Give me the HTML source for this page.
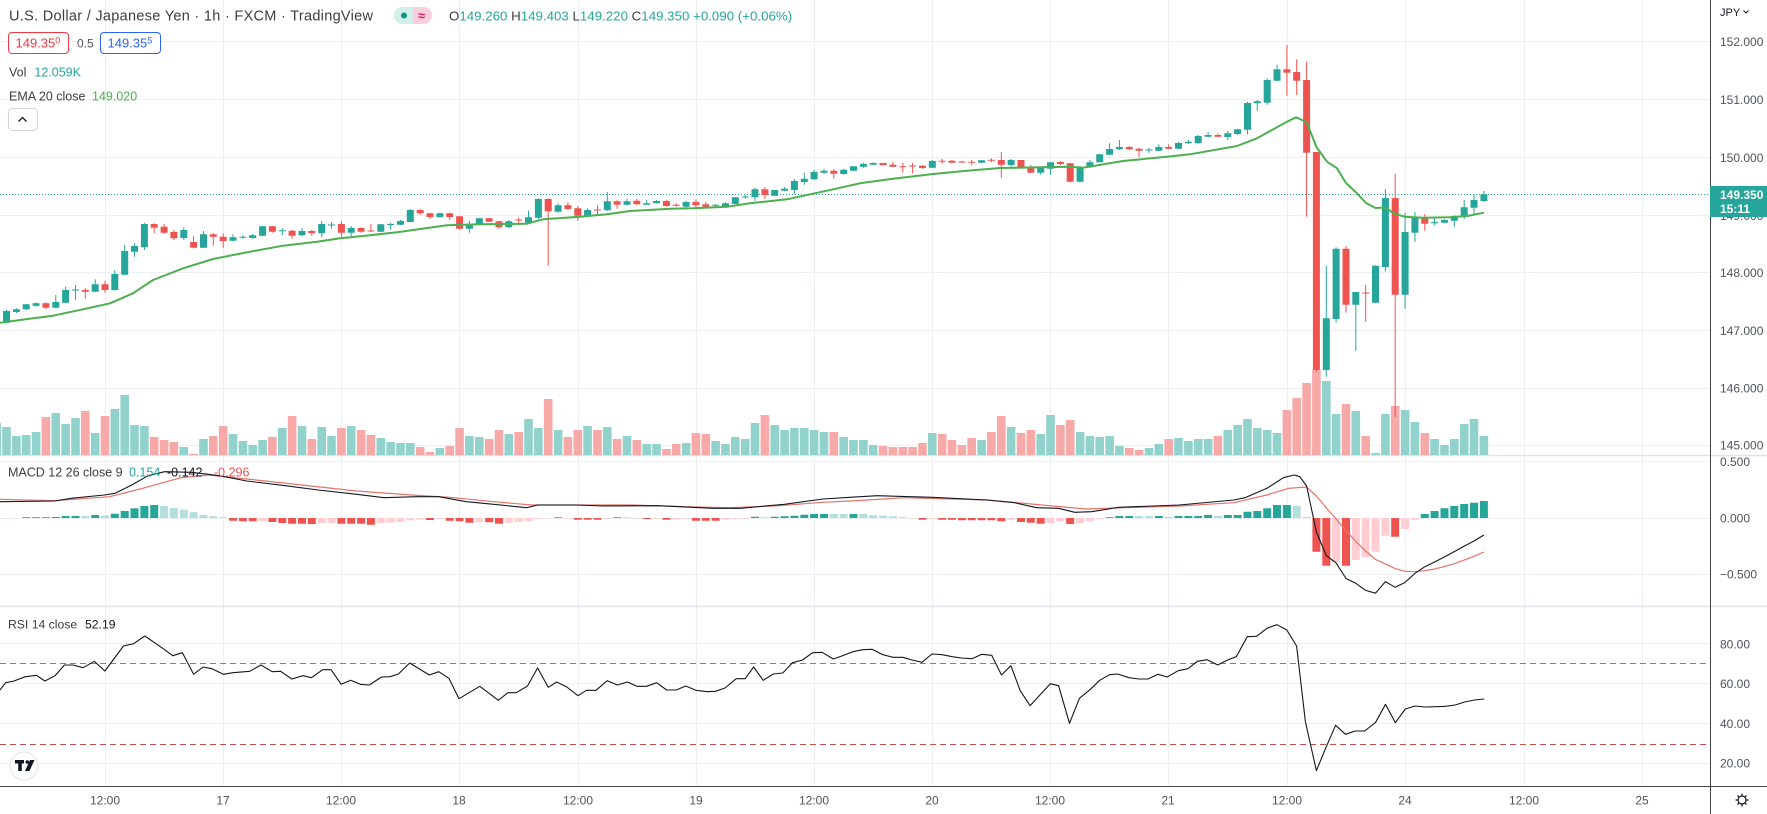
<!DOCTYPE html>
<html><head><meta charset="utf-8"><title>USDJPY 1h</title>
<style>html,body{margin:0;padding:0;background:#fff;width:1767px;height:814px;overflow:hidden}svg{display:block}</style>
</head><body>
<svg width="1767" height="814" viewBox="0 0 1767 814" xmlns="http://www.w3.org/2000/svg" font-family="Liberation Sans, Arial, sans-serif">
<rect width="1767" height="814" fill="#fff"/>
<!-- grid -->
<path stroke="#eceff3" stroke-width="1" fill="none" d="M105.5 0V786M223.5 0V786M341.5 0V786M459.5 0V786M578.5 0V786M696.5 0V786M814.5 0V786M932.5 0V786M1050.5 0V786M1168.5 0V786M1287.5 0V786M1405.5 0V786M1524.5 0V786M1642.5 0V786M0 41.5H1710M0 99.5H1710M0 157.5H1710M0 215.5H1710M0 272.5H1710M0 330.5H1710M0 388.5H1710M0 445.5H1710M0 461.5H1710M0 518.5H1710M0 574.5H1710M0 643.5H1710M0 683.5H1710M0 723.5H1710M0 763.5H1710"/>
<path stroke="#dfe2e8" stroke-width="1.5" d="M0 455.5H1767M0 606.5H1767"/>
<!-- volume -->
<path fill="#92d2cc" d="M-7.6 455v-31.7h8.6V455zM2.2 455v-28h8.6V455zM12.1 455v-19h8.6V455zM21.9 455v-20h8.6V455zM31.8 455v-23h8.6V455zM51.5 455v-42h8.6V455zM61.3 455v-31h8.6V455zM71.2 455v-37h8.6V455zM90.9 455v-22h8.6V455zM110.5 455v-46h8.6V455zM120.4 455v-60h8.6V455zM130.2 455v-30h8.6V455zM140.1 455v-29h8.6V455zM179.5 455v-8h8.6V455zM199.2 455v-16h8.6V455zM228.7 455v-21h8.6V455zM238.6 455v-14h8.6V455zM248.4 455v-10h8.6V455zM258.3 455v-15h8.6V455zM278 455v-27h8.6V455zM297.7 455v-29h8.6V455zM317.4 455v-28h8.6V455zM327.2 455v-19h8.6V455zM346.9 455v-29h8.6V455zM376.5 455v-17h8.6V455zM386.3 455v-13h8.6V455zM396.2 455v-12h8.6V455zM406 455v-12h8.6V455zM435.6 455v-7h8.6V455zM465.1 455v-19h8.6V455zM475 455v-18h8.6V455zM504.5 455v-21h8.6V455zM524.2 455v-36h8.6V455zM534.1 455v-27h8.6V455zM553.8 455v-25h8.6V455zM583.3 455v-29h8.6V455zM603 455v-28h8.6V455zM622.7 455v-19h8.6V455zM642.4 455v-11h8.6V455zM652.2 455v-11h8.6V455zM681.8 455v-12h8.6V455zM711.3 455v-14h8.6V455zM721.2 455v-11h8.6V455zM731 455v-18h8.6V455zM740.9 455v-16h8.6V455zM750.7 455v-32h8.6V455zM770.4 455v-30h8.6V455zM780.3 455v-25h8.6V455zM790.1 455v-27h8.6V455zM800 455v-27h8.6V455zM809.8 455v-25h8.6V455zM819.7 455v-23h8.6V455zM839.4 455v-18h8.6V455zM849.2 455v-15h8.6V455zM859.1 455v-15h8.6V455zM868.9 455v-10h8.6V455zM928 455v-22h8.6V455zM977.3 455v-15h8.6V455zM1006.8 455v-28h8.6V455zM1036.4 455v-21h8.6V455zM1046.2 455v-40h8.6V455zM1075.8 455v-23h8.6V455zM1085.6 455v-19h8.6V455zM1095.4 455v-18h8.6V455zM1105.3 455v-19h8.6V455zM1115.1 455v-9h8.6V455zM1144.7 455v-7h8.6V455zM1154.5 455v-11h8.6V455zM1174.2 455v-17h8.6V455zM1184.1 455v-14h8.6V455zM1193.9 455v-16h8.6V455zM1203.8 455v-16h8.6V455zM1223.5 455v-25h8.6V455zM1233.3 455v-30h8.6V455zM1243.2 455v-36h8.6V455zM1253 455v-27h8.6V455zM1262.9 455v-25h8.6V455zM1272.7 455v-22h8.6V455zM1322 455v-74h8.6V455zM1331.8 455v-41h8.6V455zM1351.5 455v-44h8.6V455zM1371.2 455v-2h8.6V455zM1381.1 455v-41h8.6V455zM1400.8 455v-45h8.6V455zM1410.6 455v-33h8.6V455zM1430.3 455v-16h8.6V455zM1440.2 455v-10h8.6V455zM1450 455v-16h8.6V455zM1459.9 455v-31h8.6V455zM1469.7 455v-36h8.6V455zM1479.6 455v-19h8.6V455z"/>
<path fill="#f7a9a7" d="M41.6 455v-38h8.6V455zM81 455v-44h8.6V455zM100.7 455v-39h8.6V455zM149.9 455v-18h8.6V455zM159.8 455v-15h8.6V455zM169.6 455v-13h8.6V455zM189.3 455v-1.3h8.6V455zM209 455v-19h8.6V455zM218.9 455v-29h8.6V455zM268.1 455v-18h8.6V455zM287.8 455v-39h8.6V455zM307.5 455v-16h8.6V455zM337.1 455v-27h8.6V455zM356.8 455v-25h8.6V455zM366.6 455v-20h8.6V455zM415.9 455v-8h8.6V455zM425.7 455v-3h8.6V455zM445.4 455v-9h8.6V455zM455.3 455v-27h8.6V455zM484.8 455v-16h8.6V455zM494.7 455v-25h8.6V455zM514.4 455v-23h8.6V455zM543.9 455v-56h8.6V455zM563.6 455v-18h8.6V455zM573.5 455v-25h8.6V455zM593.2 455v-25h8.6V455zM612.8 455v-16h8.6V455zM632.5 455v-15h8.6V455zM662.1 455v-6h8.6V455zM671.9 455v-11h8.6V455zM691.6 455v-22h8.6V455zM701.5 455v-21h8.6V455zM760.6 455v-40h8.6V455zM829.5 455v-23h8.6V455zM878.8 455v-9h8.6V455zM888.6 455v-8h8.6V455zM898.5 455v-8h8.6V455zM908.3 455v-8h8.6V455zM918.2 455v-12h8.6V455zM937.9 455v-21h8.6V455zM947.7 455v-15h8.6V455zM957.6 455v-10h8.6V455zM967.4 455v-17h8.6V455zM987.1 455v-23h8.6V455zM997 455v-39h8.6V455zM1016.7 455v-22h8.6V455zM1026.5 455v-25h8.6V455zM1056.1 455v-30h8.6V455zM1065.9 455v-35h8.6V455zM1125 455v-7h8.6V455zM1134.8 455v-5h8.6V455zM1164.4 455v-16h8.6V455zM1213.6 455v-19h8.6V455zM1282.6 455v-45h8.6V455zM1292.4 455v-57h8.6V455zM1302.3 455v-72h8.6V455zM1312.1 455v-85h8.6V455zM1341.7 455v-51h8.6V455zM1361.4 455v-19h8.6V455zM1390.9 455v-49h8.6V455zM1420.5 455v-22h8.6V455z"/>
<!-- current price dotted line -->
<path d="M0 194.5H1710" stroke="#26a69a" stroke-width="1" stroke-dasharray="1 2"/>
<!-- candles -->
<path stroke="#26a69a" stroke-width="1" fill="none" d="M6.5 310V323.3M16.4 308.3V313.3M26.2 303.7V310M36.1 302.3V306.7M55.8 295V308.3M65.6 286.7V303.3M75.5 285V300M95.2 279.3V292.3M114.8 270V290.7M124.7 245V275.3M134.5 243.3V256.7M144.4 222.7V250M183.8 227.3V240M203.5 231V248M233 234.3V241M242.9 235.3V238.7M252.7 234V238.7M262.6 226V236M282.3 228.3V235.3M302 228.3V236M321.7 221V237.3M331.5 222V228.7M351.2 226V238.3M380.8 224V232M390.6 222.7V229.3M400.5 220V225M410.3 209V222M439.9 212.7V217.7M469.4 221V232.7M479.3 217.7V225M508.8 220V228.3M528.5 210.7V223.3M538.4 198.3V219.3M558.1 203.3V212.7M587.6 208.3V217.3M607.3 192V211M627 198.7V205.7M646.7 199.7V204.7M656.5 200V203.7M686.1 200.7V208.3M715.6 204V207.3M725.5 202.3V207.3M735.3 197.3V204M745.2 195V198.7M755 187.7V200.7M774.7 190V195.7M784.6 187V191M794.4 179V194M804.3 172.7V184.7M814.1 170V180M824 168.7V174M843.7 168.7V174.7M853.5 166.3V170.7M863.4 162.7V167.7M873.2 162.3V165.3M932.3 160V168M981.6 160.3V162.7M1011.1 159V166.7M1040.7 166.7V174.7M1050.5 161.7V174.7M1080.1 166V182.3M1089.9 160V168M1099.7 154.3V162.3M1109.6 143.3V155.3M1119.4 140V150M1149 148V152.7M1158.8 144.3V151.3M1178.5 142V149.3M1188.4 140V144M1198.2 135V144M1208.1 132V137.3M1227.8 131V139.7M1237.6 128.7V135.3M1247.5 102V134.3M1257.3 100V110.7M1267.2 78.3V104.7M1277 64.7V81M1326.3 266V376.7M1336.1 247.3V322.7M1355.8 292V350.7M1375.5 265.3V303.3M1385.4 189.3V271.3M1405.1 212.7V308.7M1414.9 212V241.7M1434.6 216.7V225.3M1444.5 219.3V223.3M1454.3 215.3V226.7M1464.2 200V219.3M1474 194V214M1483.9 191V202"/>
<path fill="#26a69a" d="M3 311h7v11.7h-7zM12.9 309.3h7v2.7h-7zM22.7 304.3h7v5h-7zM32.6 303.3h7v2.4h-7zM52.3 302h7v5.7h-7zM62.1 290h7v12.7h-7zM72 289.5h7v1h-7zM91.7 284.3h7v7.4h-7zM111.3 274h7v16h-7zM121.2 251h7v23.7h-7zM131 246h7v5.7h-7zM140.9 224h7v23.3h-7zM180.3 230h7v8h-7zM200 234.3h7v13.4h-7zM229.5 237.3h7v3.4h-7zM239.4 236.8h7v1h-7zM249.2 235.3h7v2.7h-7zM259.1 226.3h7v9.4h-7zM278.8 230.2h7v1h-7zM298.5 231h7v4.3h-7zM318.2 224h7v9.3h-7zM328 224.5h7v1h-7zM347.7 228h7v4.7h-7zM377.3 224.3h7v7.4h-7zM387.1 224h7v1h-7zM397 221h7v3.7h-7zM406.8 210h7v12h-7zM436.4 213.3h7v3.7h-7zM465.9 224.3h7v4.4h-7zM475.8 218.3h7v6h-7zM505.3 221.3h7v6h-7zM525 217.3h7v5.4h-7zM534.9 199h7v18.7h-7zM554.6 205.3h7v6.4h-7zM584.1 210h7v6.3h-7zM603.8 201.3h7v9h-7zM623.5 201.3h7v3.4h-7zM643.2 203.3h7v1.4h-7zM653 201h7v2.3h-7zM682.6 202h7v4.7h-7zM712.1 204.8h7v1h-7zM722 203.3h7v3.4h-7zM731.8 197.3h7v6.7h-7zM741.7 196.5h7v1h-7zM751.5 189.3h7v8h-7zM771.2 190h7v5.7h-7zM781.1 188.7h7v2h-7zM790.9 181h7v9h-7zM800.8 178.7h7v3.3h-7zM810.6 172h7v7.3h-7zM820.5 170.7h7v2h-7zM840.2 169.7h7v4.3h-7zM850 166.3h7v4.4h-7zM859.9 164h7v2.7h-7zM869.7 163h7v1.7h-7zM928.8 161h7v6.7h-7zM978.1 160.3h7v2.4h-7zM1007.6 160h7v5h-7zM1037.2 167.7h7v5h-7zM1047 162.3h7v6.4h-7zM1076.6 167.3h7v14.4h-7zM1086.4 162.3h7v5h-7zM1096.2 154.3h7v8h-7zM1106.1 149h7v5.7h-7zM1115.9 147h7v2.3h-7zM1145.5 149.5h7v1h-7zM1155.3 147h7v3.7h-7zM1175 143h7v5.7h-7zM1184.9 141.7h7v1.6h-7zM1194.7 136h7v7h-7zM1204.6 135h7v1.7h-7zM1224.3 133.3h7v3.7h-7zM1234.1 129.3h7v4.7h-7zM1244 103h7v26.7h-7zM1253.8 101.3h7v2h-7zM1263.7 80h7v22.7h-7zM1273.5 69.3h7v11.4h-7zM1322.8 318.3h7v51.7h-7zM1332.6 248.7h7v70.3h-7zM1352.3 292h7v12.7h-7zM1372 265.7h7v37h-7zM1381.9 198h7v69h-7zM1401.6 232h7v62.7h-7zM1411.4 217.3h7v15.4h-7zM1431.1 222h7v1.3h-7zM1441 220h7v2.7h-7zM1450.8 216h7v4.7h-7zM1460.7 207.3h7v9.4h-7zM1470.5 200h7v7.7h-7zM1480.4 194.3h7v6.7h-7z"/>
<path stroke="#ef5350" stroke-width="1" fill="none" d="M45.9 302.3V309.3M85.3 288.3V298.7M105 280.7V292.7M154.2 223.3V233.3M164.1 224V234M173.9 230V240M193.6 236V248.3M213.3 233.3V245.7M223.2 233.3V247.7M272.4 226V232.7M292.1 230V238.7M311.8 230V235.7M341.4 221V236.7M361.1 227.3V232.7M370.9 224V232M420.2 209.3V214.7M430 212.7V219M449.7 212.7V220M459.6 215.7V229.7M489.1 217.7V222M499 220.7V229M518.7 217.7V223.7M548.2 198.3V265.7M567.9 202.3V210M577.8 206V220.7M597.5 205.3V215.3M617.1 200.3V208.7M636.8 199V204.7M666.4 200V206.7M676.2 203.3V206.7M695.9 199.3V207.3M705.8 201.7V208.3M764.9 187V199M833.8 169.3V178.7M883.1 163V165.3M892.9 162V167M902.8 162.7V172.7M912.6 162.7V173.3M922.5 165V168.7M942.2 158.7V163.7M952 160V163.3M961.9 161V163M971.7 160V165.3M991.4 158.3V162.3M1001.3 152V177.7M1021 160V168M1030.8 165V173.3M1060.4 161V165M1070.2 162.7V182.3M1129.3 146V150M1139.1 148V157.3M1168.7 144.3V149.3M1217.9 133.3V137.3M1286.9 45V95.7M1296.7 59.3V95M1306.6 62V216.7M1316.4 152V371.7M1346 246V312.7M1365.7 285V321.7M1395.2 174V417.3M1424.8 214V230.7"/>
<path fill="#ef5350" d="M42.4 303.3h7v4.4h-7zM81.8 290h7v1.7h-7zM101.5 284.3h7v5.7h-7zM150.7 224h7v3.7h-7zM160.6 226.7h7v6h-7zM170.4 232h7v6.3h-7zM190.1 242h7v5.7h-7zM209.8 234.3h7v2.4h-7zM219.7 236.7h7v4.3h-7zM268.9 226.3h7v5.4h-7zM288.6 230.7h7v5h-7zM308.3 231h7v2.3h-7zM337.9 224h7v8.7h-7zM357.6 228h7v3.7h-7zM367.4 230.5h7v1h-7zM416.7 210h7v3.3h-7zM426.5 213.3h7v3.7h-7zM446.2 213.3h7v3.7h-7zM456.1 216.3h7v12.4h-7zM485.6 218.3h7v3.4h-7zM495.5 221.3h7v6h-7zM515.2 219.5h7v1h-7zM544.7 199h7v12.3h-7zM564.4 205.3h7v3.7h-7zM574.3 208.3h7v7.4h-7zM594 209.5h7v1h-7zM613.6 201.3h7v3.4h-7zM633.3 200.7h7v3.6h-7zM662.9 201h7v5h-7zM672.7 204.8h7v1h-7zM692.4 202h7v3.3h-7zM702.3 204.3h7v2.4h-7zM761.4 189.3h7v5.7h-7zM830.3 170.7h7v3h-7zM879.6 163h7v2.3h-7zM889.4 164.7h7v2h-7zM899.3 166.2h7v1h-7zM909.1 165.5h7v1h-7zM919 165.7h7v2.3h-7zM938.7 160.8h7v1h-7zM948.5 160.7h7v2h-7zM958.4 161.5h7v1h-7zM968.2 161.8h7v1h-7zM987.9 159.8h7v1h-7zM997.8 160h7v4.7h-7zM1017.5 160h7v7.3h-7zM1027.3 166.7h7v6h-7zM1056.9 162h7v2h-7zM1066.7 163.3h7v18.4h-7zM1125.8 147h7v2.3h-7zM1135.6 148.7h7v2h-7zM1165.2 147h7v1.7h-7zM1214.4 135h7v1.7h-7zM1283.4 69.3h7v3.4h-7zM1293.2 72h7v8.7h-7zM1303.1 80h7v72.7h-7zM1312.9 152h7v218h-7zM1342.5 248.7h7v56h-7zM1362.2 292.5h7v1h-7zM1391.7 198h7v96.7h-7zM1421.3 217.7h7v6h-7z"/>
<!-- EMA -->
<polyline fill="none" stroke="#4caf50" stroke-width="2" stroke-linejoin="round" points="0,322.7 33,318.3 53,315.7 83,309.3 110,303.3 133,293.3 153,280 183,268.3 213,259 250,251.7 283,245.7 317,241.7 340,238.3 363,236 397,232.3 447,225.3 480,224.3 527,223.7 543,219.3 580,216.7 607,214.3 630,211 670,208.7 693,208.3 727,206.7 750,203.3 787,199.3 810,194.3 827,190.7 860,183.3 893,178.7 933,174 967,170.7 1000,168 1040,167.3 1070,166.7 1083,167.7 1123,161 1167,156.7 1190,154.3 1237,146 1257,138.3 1287,121.7 1296,117.3 1306.6,122 1316.4,147 1327,161.7 1337,168.3 1346,183 1357,193.3 1366,203 1375.5,208 1385,207.5 1395,214 1405,216.7 1423,217.7 1450,217.3 1467,216 1484,212.7"/>
<!-- MACD histogram -->
<path fill="#26a69a" d="M22.2 518v-0.7h8V518zM32.1 518v-0.7h8V518zM41.9 518v-0.7h8V518zM51.8 518v-1h8V518zM61.6 518v-2h8V518zM71.5 518v-2h8V518zM91.2 518v-3h8V518zM110.8 518v-4.3h8V518zM120.7 518v-7h8V518zM130.5 518v-9.7h8V518zM140.4 518v-12h8V518zM150.2 518v-13h8V518zM554.1 518v-0.7h8V518zM613.1 518v-0.7h8V518zM751 518v-1.3h8V518zM770.7 518v-1.3h8V518zM780.6 518v-1.7h8V518zM790.4 518v-2.3h8V518zM800.3 518v-3.3h8V518zM810.1 518v-4h8V518zM820 518v-4h8V518zM849.5 518v-4h8V518zM1105.6 518v-0.7h8V518zM1115.4 518v-2h8V518zM1125.3 518v-2h8V518zM1154.8 518v-2h8V518zM1174.5 518v-2h8V518zM1184.4 518v-2h8V518zM1194.2 518v-2h8V518zM1204.1 518v-3h8V518zM1223.8 518v-3h8V518zM1233.6 518v-3h8V518zM1243.5 518v-6.3h8V518zM1253.3 518v-7h8V518zM1263.2 518v-9.7h8V518zM1273 518v-13h8V518zM1282.9 518v-13h8V518zM1420.8 518v-4h8V518zM1430.6 518v-7h8V518zM1440.5 518v-9.7h8V518zM1450.3 518v-12h8V518zM1460.2 518v-14h8V518zM1470 518v-15.3h8V518zM1479.9 518v-17h8V518z"/>
<path fill="#b2dfdb" d="M81.3 518v-2h8V518zM101 518v-2.5h8V518zM160.1 518v-12h8V518zM169.9 518v-10.3h8V518zM179.8 518v-8.3h8V518zM189.6 518v-5.7h8V518zM199.5 518v-3h8V518zM209.3 518v-1.7h8V518zM219.2 518v-0.7h8V518zM623 518v-0.7h8V518zM760.9 518v-0.7h8V518zM829.8 518v-4h8V518zM839.7 518v-4h8V518zM859.4 518v-4h8V518zM869.2 518v-2.7h8V518zM879.1 518v-2.3h8V518zM888.9 518v-1.7h8V518zM898.8 518v-0.7h8V518zM1135.1 518v-2h8V518zM1145 518v-2h8V518zM1164.7 518v-1h8V518zM1213.9 518v-2h8V518zM1292.7 518v-12h8V518zM1302.6 518v-1h8V518z"/>
<path fill="#ef5350" d="M229 518v2.7h8V518zM238.9 518v3.3h8V518zM248.7 518v3.3h8V518zM268.4 518v4h8V518zM278.3 518v5h8V518zM288.1 518v5.7h8V518zM298 518v5.7h8V518zM307.8 518v6h8V518zM337.4 518v5.7h8V518zM347.2 518v5.7h8V518zM357.1 518v5.7h8V518zM366.9 518v6.7h8V518zM426 518v2h8V518zM445.7 518v2.7h8V518zM455.6 518v3.3h8V518zM465.4 518v4.7h8V518zM485.1 518v4.3h8V518zM495 518v5.7h8V518zM573.8 518v1.7h8V518zM583.6 518v1.7h8V518zM593.5 518v1.7h8V518zM642.7 518v1h8V518zM662.4 518v1.7h8V518zM691.9 518v2.7h8V518zM701.8 518v2.7h8V518zM711.6 518v2.7h8V518zM918.5 518v1.7h8V518zM938.2 518v1.7h8V518zM948 518v1.7h8V518zM957.9 518v2.3h8V518zM967.7 518v2.3h8V518zM977.6 518v2.3h8V518zM987.4 518v2.3h8V518zM997.3 518v3.3h8V518zM1017 518v4h8V518zM1026.8 518v4.7h8V518zM1036.7 518v5.7h8V518zM1066.2 518v6h8V518zM1312.4 518v33.7h8V518zM1322.3 518v47.7h8V518zM1342 518v47.7h8V518zM1391.2 518v18.7h8V518z"/>
<path fill="#ffcdd2" d="M2.5 518v0.5h8V518zM258.6 518v3h8V518zM317.7 518v5h8V518zM327.5 518v5h8V518zM376.8 518v5h8V518zM386.6 518v4.7h8V518zM396.5 518v4h8V518zM406.3 518v2.3h8V518zM416.2 518v1.7h8V518zM435.9 518v1h8V518zM475.3 518v4h8V518zM504.8 518v4.7h8V518zM514.7 518v4h8V518zM524.5 518v3.3h8V518zM534.4 518v1h8V518zM544.2 518v0.5h8V518zM563.9 518v0.5h8V518zM603.3 518v0.7h8V518zM632.8 518v0.7h8V518zM652.5 518v0.7h8V518zM672.2 518v1.5h8V518zM682.1 518v1h8V518zM721.5 518v1.7h8V518zM731.3 518v1h8V518zM741.2 518v0.7h8V518zM908.6 518v0.5h8V518zM928.3 518v1h8V518zM1007.1 518v2h8V518zM1046.5 518v5h8V518zM1056.4 518v3.3h8V518zM1076.1 518v5.3h8V518zM1085.9 518v3.3h8V518zM1095.7 518v1.3h8V518zM1332.1 518v44h8V518zM1351.8 518v42h8V518zM1361.7 518v39.3h8V518zM1371.5 518v33.7h8V518zM1381.4 518v17.7h8V518zM1401.1 518v11h8V518zM1410.9 518v1.7h8V518z"/>
<!-- MACD lines -->
<polyline fill="none" stroke="#e57368" stroke-width="1.2" stroke-linejoin="round" points="0,499.3 54.9,500.7 109.7,496.7 142.6,488.3 181,477.7 208.4,475 246.8,479 301.7,485 356.6,491 411.4,495 449.8,497.3 493.7,501.7 532.1,505 576,505 630.8,505 685.7,506.7 729.6,507.7 778.9,505.7 822.8,502.3 850,501 904.9,497.7 987.1,500 1042,505 1085.9,509 1124.3,507.7 1179.1,506 1234,502.7 1266.9,495 1288.8,488.3 1306.6,487 1316.4,496 1326.3,507.9 1336.1,518.9 1346,530.8 1355.8,541.3 1365.7,551.1 1375.5,559.5 1385.4,563.9 1395.2,568.6 1405.1,571.3 1414.9,571.7 1424.8,570.7 1434.6,569 1444.5,566.6 1454.3,563.6 1464.2,560.1 1474,556.3 1483.9,552"/>
<polyline fill="none" stroke="#131722" stroke-width="1.1" stroke-linejoin="round" points="0,501.7 54.9,501 71.3,498.3 104.2,495 115.2,493.3 131.7,485 148.1,475.7 164.6,471.7 192,472.3 219.4,475.7 246.8,481 285.2,485.7 318.2,490 356.6,494.3 384,497.7 416.9,496.7 438.8,496.7 466.3,501.7 493.7,504.3 526.6,507.7 537.6,505 576,505 603.4,506 658.3,505.7 713.1,508.3 740.5,508.3 784.4,504.3 822.8,499 850,497.3 877.4,495.7 932.3,497.3 987.1,500 1014.6,502.7 1036.5,507.7 1058.5,508.3 1074.9,512.3 1091.4,511.7 1118.8,507.3 1179.1,505 1234,500 1245,497.7 1266.9,488.3 1283.4,477.7 1294.3,475 1299.8,476.7 1306.6,486 1316.4,532 1326.3,555.6 1336.1,562.9 1346,578.5 1355.8,583.3 1365.7,590.4 1375.5,593.2 1385.4,581.6 1395.2,587.3 1405.1,582.4 1414.9,573.4 1424.8,566.7 1434.6,562 1444.5,556.9 1454.3,551.6 1464.2,546.1 1474,541 1483.9,535"/>
<!-- RSI bands -->
<path d="M0 663.5H1710" stroke="#5a9e5a" stroke-width="1" stroke-dasharray="6 4"/>
<path d="M0 744.5H1710" stroke="#c0504d" stroke-width="1" stroke-dasharray="6 4"/>
<polyline fill="none" stroke="#131722" stroke-width="1.1" stroke-linejoin="round" points="0,690 5.6,682.7 14,681 25.3,676.7 36.5,675.3 44.9,681 55,675.7 64.5,665 73,665 83.1,667.7 94.3,661.3 104.9,671 123.5,646 133.6,643.7 144.8,636 162.7,648.3 172.8,655.7 182.4,652.7 193.6,674.3 203.1,667 212.1,668.7 223.3,674.3 232.9,672.7 249.7,671.3 260.9,665 272.2,671.7 280.6,671.3 291.8,679 303,675.7 311.4,677.7 322.7,669.7 331.1,669.7 341.2,684.3 350.7,680.3 360.3,684.3 369.2,685 381.6,677 390,676.7 398.4,674 409.7,663 429.3,675 438.8,671.7 448.9,678.3 459,698.7 479.8,686.3 498.3,700.3 507.9,692.7 516.3,692.7 527.5,686 537.6,668 548.3,687.3 556.7,682 566.8,687 578,695.7 586.4,690.3 596,690.3 607.2,680.7 617.3,685 627.4,682 636.9,686.3 646.5,686.3 656.6,682.7 666.7,690 676.2,690 685.7,686 695.9,690.3 707.1,691.7 715.5,691.3 725,688 736.2,678.7 745.2,678.7 753.6,667 763.2,680.3 773.3,674 782.8,673 792.4,662.7 802.5,660 812.6,652.7 822.1,652.3 833.3,659 841.8,656 853,651.7 862.5,649.7 872.1,649.3 881.9,654.3 892.9,657.3 902.8,657.3 912.1,660 922,662.3 931.9,654 942.3,654.7 952.2,656.7 961.5,658 971.9,658.7 981.8,654.3 991.7,655.3 1001.5,675 1010.9,665.7 1020.2,690.7 1030.1,705.7 1039.9,695 1050.3,683.7 1058.6,685.7 1069.5,723.3 1079.4,698.3 1090.4,689.3 1099.7,680.3 1109.6,674.7 1117.8,674 1128.8,677.7 1138.7,679 1148,679 1157.9,674.3 1167.2,677 1178.2,670.7 1188,668.7 1197.4,661.3 1207.2,659.7 1217.7,665 1227.5,660 1236.3,656.7 1247.3,636.7 1256.6,636.3 1267,628.3 1276.9,624.7 1286.8,630 1296.6,646 1305.4,721.7 1316.4,770.7 1326.3,746.7 1335.6,725.3 1345.5,734.3 1355.3,731 1364.7,731 1375.6,722.3 1385.5,704.3 1395.4,722.7 1405.3,709 1415.1,706 1425,707 1436,706.7 1445.3,706.3 1455.2,705 1464.5,702 1474.4,700 1484.2,699"/>
<!-- axes -->
<rect x="1711" y="0" width="56" height="814" fill="#fff"/>
<rect x="0" y="787" width="1767" height="27" fill="#fff"/>
<path stroke="#dfe2e8" stroke-width="1.5" d="M1711 455.5H1767M1711 606.5H1767"/>
<path stroke="#444" stroke-width="1" d="M1710.5 0V814M0 786.5H1767"/>
<g font-size="12" fill="#50535e">
<text x="1720" y="16" font-size="11" fill="#131722">JPY</text>
<text x="1720" y="45.8">152.000</text>
<text x="1720" y="103.8">151.000</text>
<text x="1720" y="161.8">150.000</text>
<text x="1720" y="219.8">149.000</text>
<text x="1720" y="276.8">148.000</text>
<text x="1720" y="334.8">147.000</text>
<text x="1720" y="392.6">146.000</text>
<text x="1720" y="449.6">145.000</text>
<text x="1720" y="466">0.500</text>
<text x="1720" y="522.6">0.000</text>
<text x="1720" y="578.6">−0.500</text>
<text x="1720" y="648.3">80.00</text>
<text x="1720" y="688">60.00</text>
<text x="1720" y="728">40.00</text>
<text x="1720" y="767.6">20.00</text>
</g>
<polyline points="1743.5,10.5 1746,13 1748.5,10.5" fill="none" stroke="#131722" stroke-width="1"/>
<rect x="1710" y="186" width="57" height="31" fill="#26a69a"/>
<text x="1720" y="199" font-size="12" font-weight="bold" fill="#fff">149.350</text>
<text x="1720" y="213" font-size="12" font-weight="bold" fill="#fff">15:11</text>
<g font-size="12" fill="#50535e" text-anchor="middle">
<text x="105" y="804.5">12:00</text>
<text x="223" y="804.5">17</text>
<text x="341" y="804.5">12:00</text>
<text x="459" y="804.5">18</text>
<text x="578" y="804.5">12:00</text>
<text x="696" y="804.5">19</text>
<text x="814" y="804.5">12:00</text>
<text x="932" y="804.5">20</text>
<text x="1050" y="804.5">12:00</text>
<text x="1168" y="804.5">21</text>
<text x="1287" y="804.5">12:00</text>
<text x="1405" y="804.5">24</text>
<text x="1524" y="804.5">12:00</text>
<text x="1642" y="804.5">25</text>
</g>
<!-- gear -->
<g stroke="#131722" stroke-width="1.2" fill="none">
<circle cx="1742" cy="800" r="4"/>
<path d="M1742 793.5V795.5M1742 804.5V806.5M1735.5 800H1737.5M1746.5 800H1748.5M1737.4 795.4L1738.8 796.8M1745.2 803.2L1746.6 804.6M1737.4 804.6L1738.8 803.2M1745.2 796.8L1746.6 795.4"/>
</g>
<!-- TV logo -->
<circle cx="24" cy="766" r="14" fill="#fff" stroke="#e0e3eb" stroke-width="1"/>
<g fill="#131722">
<rect x="15" y="760" width="9" height="3.5"/>
<rect x="18.2" y="760" width="3.6" height="11"/>
<circle cx="27.3" cy="762" r="1.8"/>
<polygon points="30,760 34.5,760 29.5,771 25,771"/>
</g>
<!-- legend header -->
<text x="9" y="20.7" font-size="14.5" letter-spacing="0.3" fill="#3d3d3d">U.S. Dollar / Japanese Yen · 1h · FXCM · TradingView</text>
<rect x="394" y="7" width="38" height="17" rx="8.5" fill="#f9cfdc"/>
<path d="M402.5 7H413V24H402.5A8.5 8.5 0 0 1 402.5 7Z" fill="#d2efe9"/>
<circle cx="404" cy="15.5" r="3" fill="#089981"/>
<text x="421.5" y="20" font-size="13" font-weight="bold" fill="#e91e63" text-anchor="middle">≈</text>
<text x="449" y="20.5" font-size="13.3" fill="#3d3d3d">O<tspan fill="#26a69a">149.260</tspan> H<tspan fill="#26a69a">149.403</tspan> L<tspan fill="#26a69a">149.220</tspan> C<tspan fill="#26a69a">149.350</tspan> <tspan fill="#26a69a">+0.090 (+0.06%)</tspan></text>
<rect x="8.5" y="32.5" width="60" height="21" rx="3.5" fill="#fff" stroke="#f23645" stroke-width="1"/>
<text x="15.5" y="47.5" font-size="13" fill="#f23645">149.35<tspan font-size="9" dy="-4">0</tspan></text>
<text x="77" y="47.5" font-size="12" fill="#50535e">0.5</text>
<rect x="100.5" y="32.5" width="60" height="21" rx="3.5" fill="#fff" stroke="#2962ff" stroke-width="1"/>
<text x="107.5" y="47.5" font-size="13" fill="#2962ff">149.35<tspan font-size="9" dy="-4">5</tspan></text>
<text x="9" y="76.3" font-size="12.5" fill="#3d3d3d">Vol</text>
<text x="34.4" y="76.3" font-size="12.5" fill="#26a69a">12.059K</text>
<text x="9" y="100.6" font-size="12.5" fill="#3d3d3d">EMA 20 close</text>
<text x="92" y="100.6" font-size="12.5" fill="#4caf50">149.020</text>
<rect x="8.5" y="108.5" width="29" height="22" rx="4" fill="#fff" stroke="#d1d4dc" stroke-width="1"/>
<polyline points="18.5,121.5 22.5,117.5 26.5,121.5" fill="none" stroke="#131722" stroke-width="1.3"/>
<text x="8" y="476.5" font-size="12.5" fill="#3d3d3d">MACD 12 26 close 9</text>
<text x="129" y="476.5" font-size="12.5" fill="#26a69a">0.154</text>
<text x="167" y="476.5" font-size="12.5" fill="#131722">-0.142</text>
<text x="214" y="476.5" font-size="12.5" fill="#e05a55">-0.296</text>
<text x="8" y="628.5" font-size="12.2" fill="#3d3d3d">RSI 14 close</text>
<text x="85" y="628.5" font-size="12.2" fill="#131722">52.19</text>
</svg>
</body></html>
